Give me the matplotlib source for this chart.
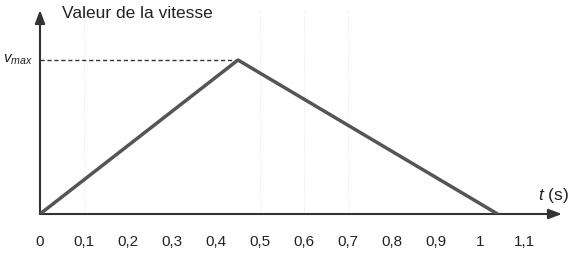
import matplotlib
matplotlib.use('Agg')
import matplotlib.pyplot as plt

plt.rcParams['font.family'] = ['Liberation Sans', 'DejaVu Sans']
plt.rcParams['mathtext.fontset'] = 'custom'
plt.rcParams['mathtext.it'] = 'Liberation Sans:italic'
plt.rcParams['mathtext.rm'] = 'Liberation Sans'

# data
t = [0, 0.45, 1.04]
v = [0, 1, 0]
tick_pos = [0, 0.1, 0.2, 0.3, 0.4, 0.5, 0.6, 0.7, 0.8, 0.9, 1, 1.1]
tick_lab = ['0', '0,1', '0,2', '0,3', '0,4', '0,5', '0,6', '0,7', '0,8', '0,9', '1', '1,1']
faint_lines = [0.1, 0.5, 0.6, 0.7]

fig = plt.figure(figsize=(5.76, 2.62), dpi=100)
ax = fig.add_axes([40/576, 48/262, 522/576, 204/262])
ax.set_xlim(0, 522/440)
ax.set_ylim(0, 204/154)
for s in ax.spines.values():
    s.set_visible(False)
ax.set_yticks([])
ax.set_xticks(tick_pos)
ax.set_xticklabels(tick_lab, fontsize=11, color='#222222')
ax.tick_params(axis='x', length=0, pad=15)

# faint scan lines
for x in faint_lines:
    ax.axvline(x, color='#dddddd', lw=0.6, ls=(0, (1, 2)), zorder=0)

# axes with arrows
ax.annotate('', xy=(522/440, 0), xytext=(0, 0),
            arrowprops=dict(arrowstyle='-|>,head_length=0.8,head_width=0.3',
                            color='#333333', lw=1.5, shrinkA=0, shrinkB=0))
ax.annotate('', xy=(0, 204/154), xytext=(0, 0),
            arrowprops=dict(arrowstyle='-|>,head_length=0.8,head_width=0.3',
                            color='#333333', lw=1.5, shrinkA=0, shrinkB=0))

ax.plot(t, v, color='#555555', lw=2.5, solid_capstyle='round', zorder=3)
ax.plot([0, t[1]], [1, 1], color='#333333', lw=1, ls=(0, (3, 2)))

ax.text(-0.015, 1, '$v_{max}$', ha='right', va='center', fontsize=11,
        color='#222222', clip_on=False)
ax.text(0.05, 1.30, 'Valeur de la vitesse', ha='left', va='center',
        fontsize=12.5, color='#222222')
ax.text(1.168, 0.06, '$t$ (s)', ha='center', va='bottom', fontsize=12.5,
        color='#222222')

fig.savefig('out.png', dpi=100)
